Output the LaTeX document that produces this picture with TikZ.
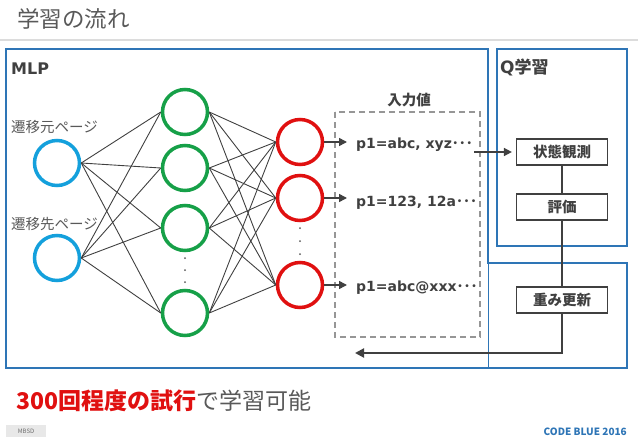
\documentclass[tikz,border=0pt]{standalone}
\usepackage{fontspec}
\setmainfont{Noto Sans CJK JP}
\newfontfamily\dv{DejaVu Sans}
\usetikzlibrary{arrows.meta}
\definecolor{boxblue}{RGB}{46,117,182}
\definecolor{nblue}{RGB}{20,160,220}
\definecolor{ngreen}{RGB}{22,160,72}
\definecolor{nred}{RGB}{224,16,16}
\definecolor{lineg}{RGB}{64,64,64}
\definecolor{textg}{RGB}{64,64,64}
\definecolor{lightg}{RGB}{89,89,89}
\tikzset{
  neuron/.style={circle, minimum size=45pt, inner sep=0pt, line width=3.5pt, fill=white},
  conn/.style={draw=lineg, line width=0.9pt},
  arr/.style={draw=lineg, line width=2pt, -{Triangle[length=9pt,width=9pt]}},
  sarr/.style={draw=lineg, line width=1.6pt, -{Triangle[length=8pt,width=8pt]}},
  qbox/.style={draw=lineg, line width=1.2pt, fill=white, minimum width=91pt, minimum height=26pt, inner sep=0pt, text=textg, font=\bfseries\fontsize{14.5}{16}\selectfont},
  valtext/.style={anchor=west, inner sep=1pt, text=textg, font=\dv\bfseries\fontsize{14}{16}\selectfont},
  blbl/.style={font=\bfseries\fontsize{17}{19}\selectfont, text=textg, inner sep=0pt, anchor=west},
  dotmark/.style={fill=lightg}
}
\begin{document}
\begin{tikzpicture}[x=1pt,y=-1pt]
\useasboundingbox (0,0) rectangle (638,442);
% title
\node[anchor=west, inner sep=0pt, text=lightg, font=\fontsize{22.5}{24}\selectfont] (title) at (17,19) {学習の流れ};
\draw[color={rgb,255:red,220;green,220;blue,220}, line width=1.5pt] (0,40) -- (638,40);
% boxes
\draw[boxblue, line width=1.8pt] (6,49) -- (488,49) -- (488,263) -- (627,263) -- (627,368) -- (6,368) -- cycle;
\draw[boxblue, line width=0.6pt] (488,263) -- (488,368);
\draw[boxblue, line width=1.8pt] (497,49) rectangle (627,246);
\node[blbl, font=\dv\bfseries\fontsize{16}{18}\selectfont] (mlp) at (11,69) {MLP};
\node[blbl] (qlbl) at (500,67) {{\dv Q}学習};
% dashed input box
\draw[color={rgb,255:red,150;green,150;blue,150}, line width=1.2pt, dash pattern=on 6pt off 4pt] (335,112) rectangle (480,337);
\node[font=\bfseries\fontsize{14.5}{16}\selectfont, text=textg, inner sep=0pt] (inlbl) at (409,100) {入力値};
% neurons
\node[neuron, draw=nblue] (b1) at (57,163) {};
\node[neuron, draw=nblue] (b2) at (57,258) {};
\node[anchor=west, inner sep=0pt, text=lightg, font=\fontsize{14.5}{16}\selectfont] (lb1) at (11,127) {遷移元ページ};
\node[anchor=west, inner sep=0pt, text=lightg, font=\fontsize{14.5}{16}\selectfont] (lb2) at (11,224) {遷移先ページ};
\node[neuron, draw=ngreen] (g1) at (185,112) {};
\node[neuron, draw=ngreen] (g2) at (185,168) {};
\node[neuron, draw=ngreen] (g3) at (185,228) {};
\node[neuron, draw=ngreen] (g4) at (185,313) {};
\node[neuron, draw=nred] (r1) at (300,142) {};
\node[neuron, draw=nred] (r2) at (300,198) {};
\node[neuron, draw=nred] (r3) at (300,285) {};
\foreach \i in {1,2} {\foreach \j in {1,2,3,4} {\draw[conn] (b\i.east) -- (g\j.west);}}
\foreach \i in {1,2,3,4} {\foreach \j in {1,2,3} {\draw[conn] (g\i.east) -- (r\j.west);}}
\foreach \y in {258,270,282} {\fill[dotmark] (185,\y) circle (1pt);}
\foreach \y in {228,241,254} {\fill[dotmark] (300,\y) circle (1pt);}
% value texts
\node[valtext] (t1) at (355,145) {p1=abc, xyz{\rmfamily ･･･}};
\node[valtext] (t2) at (355,203) {p1=123, 12a{\rmfamily ･･･}};
\node[valtext] (t3) at (355,288) {p1=abc@xxx{\rmfamily ･･･}};
\draw[sarr, shorten >=8pt] (r1.east) -- (r1.east -| t1.west);
\draw[sarr, shorten >=8pt] (r2.east) -- (r2.east -| t2.west);
\draw[sarr, shorten >=8pt] (r3.east) -- (r3.east -| t3.west);
% Q learning chain
\node[qbox] (s1) at (562,152) {状態観測};
\node[qbox] (s2) at (562,207) {評価};
\node[qbox] (s3) at (562,300) {重み更新};
\draw[sarr, shorten >=4pt] (t1.east |- s1.west) -- (s1.west);
\draw[lineg, line width=2pt] (s1.south) -- (s2.north);
\draw[lineg, line width=2pt] (s2.south) -- (s3.north);
\coordinate (ret) at (355,353);
\draw[arr] (s3.south) |- (ret);
% bottom texts
\node[anchor=west, inner sep=0pt, font=\fontsize{23}{25}\selectfont] (bottom) at (16,401) {\textcolor{nred}{\bfseries 300回程度の試行}\textcolor{lightg}{で学習可能}};
\node[draw=none, fill={rgb,255:red,232;green,232;blue,232}, minimum width=40pt, minimum height=12pt, inner sep=0pt, text={rgb,255:red,110;green,110;blue,110}, font=\fontsize{6}{7}\selectfont] (mbsd) at (26,431) {MBSD};
\node[anchor=east, inner sep=0pt, text=boxblue, font=\bfseries\fontsize{10}{12}\selectfont] (cb) at (627,432) {CODE BLUE 2016};
\end{tikzpicture}
\end{document}
